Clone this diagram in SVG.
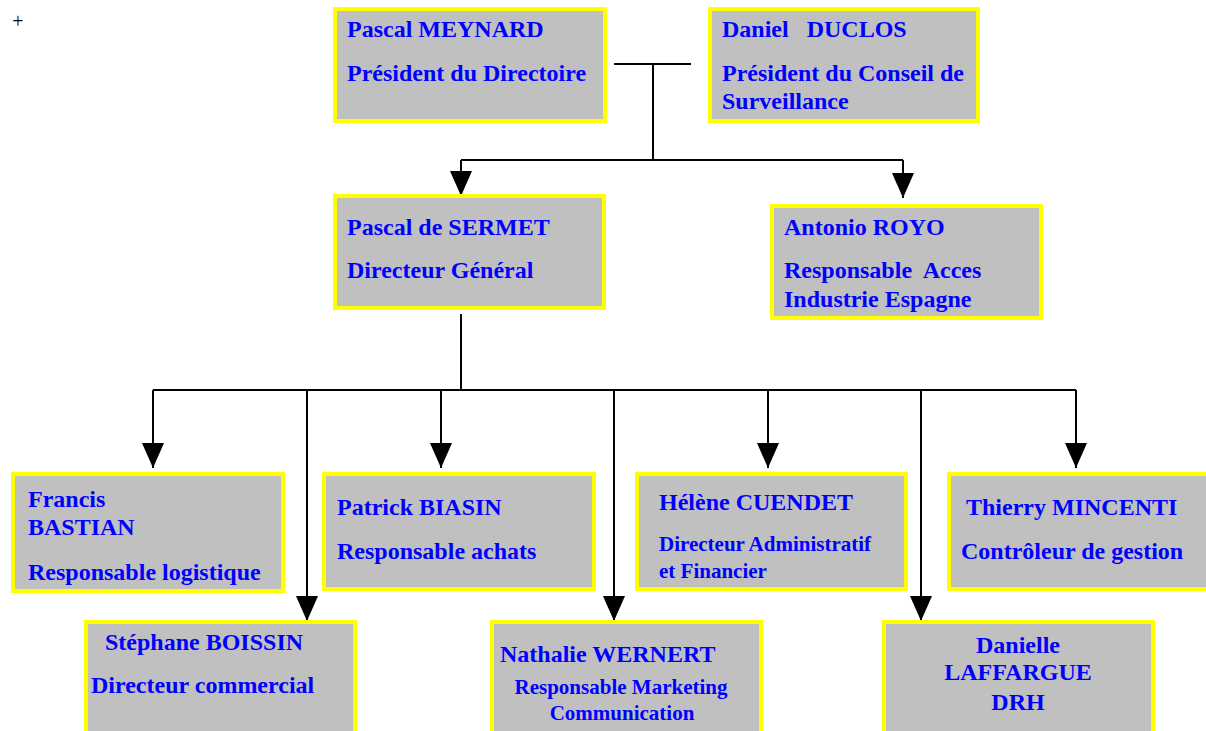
<svg xmlns="http://www.w3.org/2000/svg" width="1206" height="731" viewBox="0 0 1206 731">
<style>
.box{fill:#C0C0C0;stroke:#FFFF00;stroke-width:4}
.t{font-family:"Liberation Serif","Times New Roman",serif;font-weight:bold;font-size:24px;fill:#0000FF}
.s{font-size:21px}
.c{text-anchor:middle}
.ln{fill:none;stroke:#000;stroke-width:2}
</style>
<defs>
<marker id="ah" markerUnits="userSpaceOnUse" markerWidth="26" markerHeight="22" refX="25" refY="11" orient="auto" viewBox="0 0 26 22">
<path d="M0,0 L25,11 L0,22 Z" fill="#000"/>
</marker>
</defs>
<rect width="1206" height="731" fill="#fff"/>
<text x="18" y="28" font-family="Liberation Serif,serif" font-size="20" fill="#000" text-anchor="middle">+</text>
<g id="connectors">
<path class="ln" d="M614,64 H691 M653,64 V160 M461,160 H903"/>
<path class="ln" d="M461,160 V196" marker-end="url(#ah)"/>
<path class="ln" d="M903,160 V198" marker-end="url(#ah)"/>
<path class="ln" d="M461,314 V390 M153,390 H1076"/>
<path class="ln" d="M153,390 V468" marker-end="url(#ah)"/>
<path class="ln" d="M441,390 V468" marker-end="url(#ah)"/>
<path class="ln" d="M768,390 V468" marker-end="url(#ah)"/>
<path class="ln" d="M1076,390 V468" marker-end="url(#ah)"/>
<path class="ln" d="M307,390 V621" marker-end="url(#ah)"/>
<path class="ln" d="M614,390 V621" marker-end="url(#ah)"/>
<path class="ln" d="M921,390 V621" marker-end="url(#ah)"/>
</g>
<g id="meynard">
<rect class="box" x="335" y="9" width="270" height="112"/>
<text class="t" x="347" y="37">Pascal MEYNARD</text>
<text class="t" x="347" y="81">Président du Directoire</text>
</g>
<g id="duclos">
<rect class="box" x="710" y="9" width="268" height="112"/>
<text class="t" x="722" y="37" xml:space="preserve">Daniel   DUCLOS</text>
<text class="t" x="722" y="81">Président du Conseil de</text>
<text class="t" x="722" y="109">Surveillance</text>
</g>
<g id="sermet">
<rect class="box" x="335" y="196" width="269" height="112"/>
<text class="t" x="347" y="235">Pascal de SERMET</text>
<text class="t" x="347" y="278">Directeur Général</text>
</g>
<g id="royo">
<rect class="box" x="772" y="206" width="269" height="112"/>
<text class="t" x="784" y="235">Antonio ROYO</text>
<text class="t" x="784" y="278" xml:space="preserve">Responsable  Acces</text>
<text class="t" x="784" y="307">Industrie Espagne</text>
</g>
<g id="bastian">
<rect class="box" x="13" y="474" width="270" height="117"/>
<text class="t" x="28" y="507">Francis</text>
<text class="t" x="28" y="535">BASTIAN</text>
<text class="t" x="28" y="580">Responsable logistique</text>
</g>
<g id="biasin">
<rect class="box" x="324" y="474" width="270" height="115"/>
<text class="t" x="337" y="515">Patrick BIASIN</text>
<text class="t" x="337" y="559">Responsable achats</text>
</g>
<g id="cuendet">
<rect class="box" x="637" y="474" width="269" height="115"/>
<text class="t" x="659" y="510">Hélène CUENDET</text>
<text class="t s" x="659" y="551">Directeur Administratif</text>
<text class="t s" x="659" y="578">et Financier</text>
</g>
<g id="mincenti">
<rect class="box" x="949" y="474" width="270" height="115"/>
<text class="t" x="966" y="515">Thierry MINCENTI</text>
<text class="t" x="961" y="559">Contrôleur de gestion</text>
</g>
<g id="boissin">
<rect class="box" x="86" y="622" width="269" height="120"/>
<text class="t" x="105" y="650">Stéphane BOISSIN</text>
<text class="t" x="91" y="693">Directeur commercial</text>
</g>
<g id="wernert">
<rect class="box" x="492" y="622" width="269" height="120"/>
<text class="t" x="500" y="662">Nathalie WERNERT</text>
<text class="t s c" x="621" y="694">Responsable Marketing</text>
<text class="t s c" x="622" y="720">Communication</text>
</g>
<g id="laffargue">
<rect class="box" x="884" y="622" width="269" height="120"/>
<text class="t c" x="1018" y="653">Danielle</text>
<text class="t c" x="1018" y="680">LAFFARGUE</text>
<text class="t c" x="1018" y="710" font-size="26">DRH</text>
</g>
</svg>
